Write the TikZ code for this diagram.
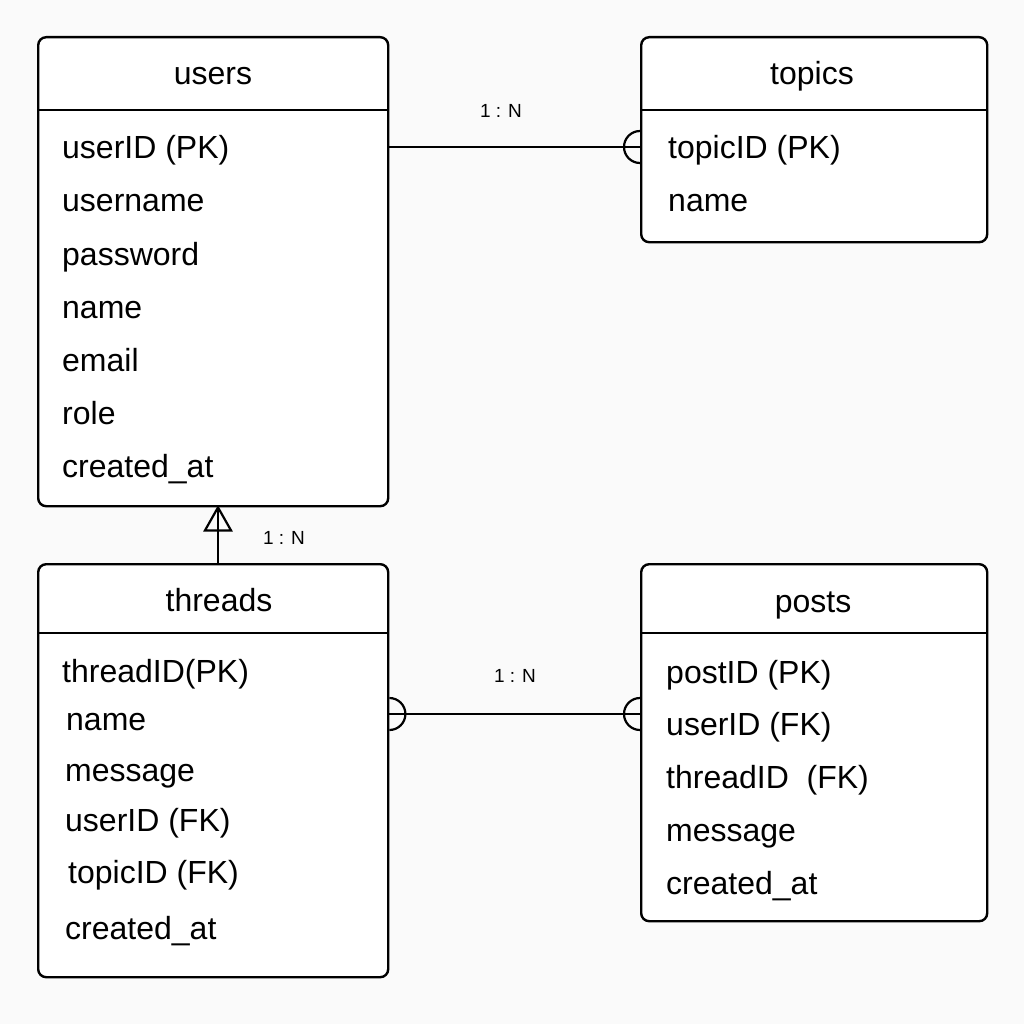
\documentclass[tikz,border=0pt]{standalone}
\usepackage{fontspec}
\setmainfont{Liberation Sans}
\begin{document}
\begin{tikzpicture}[x=1pt,y=-1pt,
  entity/.style={draw=black, line width=2.4pt, rounded corners=8pt, fill=white, anchor=north west, inner sep=0pt},
  conn/.style={draw=black, line width=2.2pt},
  attr/.style={anchor=base west, inner sep=0pt, font=\fontsize{32}{36}\selectfont},
  ttl/.style={anchor=base, inner sep=0pt, font=\fontsize{32}{36}\selectfont},
  card/.style={inner sep=0pt, font=\fontsize{19}{22}\selectfont}]
\fill[fill={rgb,255:red,250;green,250;blue,250}] (0,0) rectangle (1024,1024);
\useasboundingbox (0,0) rectangle (1024,1024);

% entity boxes
\node[entity, minimum width=350pt, minimum height=469pt] (users) at (37,36) {};
\node[entity, minimum width=346pt, minimum height=205pt] (topics) at (640,36) {};
\node[entity, minimum width=350pt, minimum height=413pt] (threads) at (37,563) {};
\node[entity, minimum width=346pt, minimum height=357pt] (posts) at (640,563) {};

% header lines
\draw[line width=2.2pt] (users.west |- 0,110) -- (users.east |- 0,110);
\draw[line width=2.2pt] (topics.west |- 0,110) -- (topics.east |- 0,110);
\draw[line width=2.2pt] (threads.west |- 0,633) -- (threads.east |- 0,633);
\draw[line width=2.2pt] (posts.west |- 0,633) -- (posts.east |- 0,633);

% titles
\node[ttl] (tu) at (213,85) {users};
\node[ttl] (tt) at (812,85) {topics};
\node[ttl] (tth) at (219,611) {threads};
\node[ttl] (tp) at (813,612) {posts};

% users attributes
\node[attr] (u1) at (62,159) {userID (PK)};
\node[attr] (u2) at (62,212) {username};
\node[attr] (u3) at (62,265) {password};
\node[attr] (u4) at (62,318) {name};
\node[attr] (u5) at (62,371) {email};
\node[attr] (u6) at (62,424) {role};
\node[attr] (u7) at (62,477) {created\_at};

% topics attributes
\node[attr] (t1) at (668,159) {topicID (PK)};
\node[attr] (t2) at (668,212) {name};

% threads attributes
\node[attr] (h1) at (62,682) {threadID(PK)};
\node[attr] (h2) at (66,730) {name};
\node[attr] (h3) at (65,781) {message};
\node[attr] (h4) at (65,831) {userID (FK)};
\node[attr] (h5) at (68,883) {topicID (FK)};
\node[attr] (h6) at (65,939) {created\_at};

% posts attributes
\node[attr] (p1) at (666,683) {postID (PK)};
\node[attr] (p2) at (666,735) {userID (FK)};
\node[attr] (p3) at (666,788) {threadID\ \ (FK)};
\node[attr] (p4) at (666,841) {message};
\node[attr] (p5) at (666,894) {created\_at};

% users -- topics
\coordinate (ut1) at (users.east |- 0,147);
\coordinate (ut2) at (topics.west |- 0,147);
\draw[conn] (ut1) -- (ut2);
\draw[conn] ([yshift=16pt]ut2) arc[start angle=90, end angle=270, radius=16pt];
\node[card] (l1) at (501,111) {1 : N};

% threads -- posts
\coordinate (tp1) at (threads.east |- 0,714);
\coordinate (tp2) at (posts.west |- 0,714);
\draw[conn] (tp1) -- (tp2);
\draw[conn] ([yshift=16pt]tp1) arc[start angle=90, end angle=-90, radius=16pt];
\draw[conn] ([yshift=16pt]tp2) arc[start angle=90, end angle=270, radius=16pt];
\node[card] (l3) at (515,676) {1 : N};

% threads -> users
\coordinate (tu1) at (threads.north -| 218,0);
\coordinate (tu2) at (users.south -| 218,0);
\draw[conn] (tu1) -- (tu2);
\draw[conn, line join=miter] (tu2) -- ++(-13,23) -- ++(26,0) -- cycle;
\node[card] (l2) at (284,538) {1 : N};
\end{tikzpicture}
\end{document}
